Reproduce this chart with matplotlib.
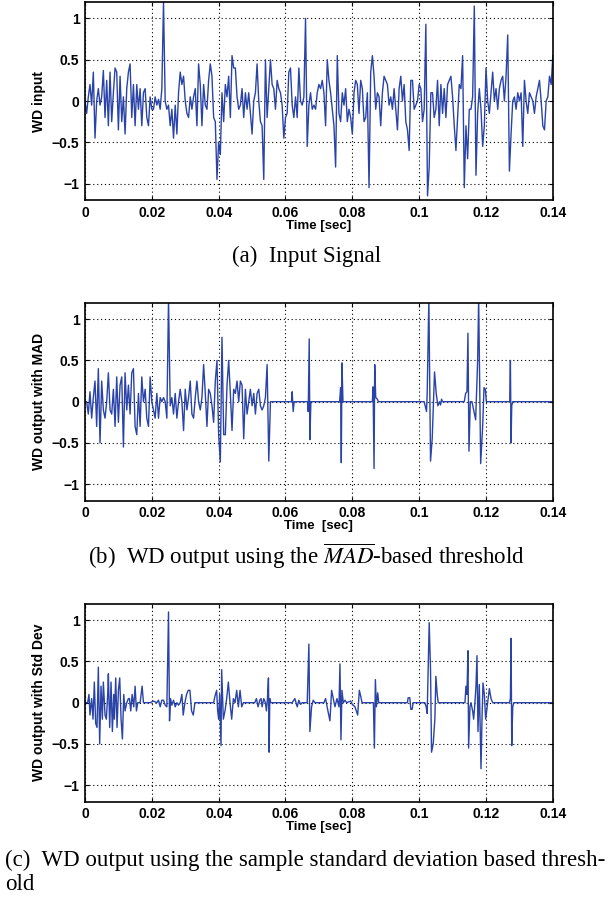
import numpy as np
import matplotlib
matplotlib.use('Agg')
import matplotlib.pyplot as plt

plt.rcParams['font.family'] = ['Liberation Sans', 'DejaVu Sans']
plt.rcParams['mathtext.fontset'] = 'stix'

# (a) WD input, sampled every 0.5 ms from 0 to 0.14 s
dt_ms = 0.5
wd_input = [
    0.0, -0.15, 0.05, 0.2, -0.05, 0.35, -0.45, 0.0, 0.15, -0.05,
    0.05, 0.37, -0.2, 0.25, -0.3, 0.35, -0.25, 0.1, 0.4, 0.35,
    -0.35, 0.3, -0.25, 0.05, -0.4, 0.15, 0.35, 0.45, -0.2, 0.2,
    -0.3, 0.2, -0.1, 0.15, -0.3, 0.1, 0.15, -0.2, -0.3, 0.05,
    -0.1, -0.1, 0.05, -0.05, 0.02, -0.1, 0.15, 1.2, 0.0, -0.1,
    -0.05, -0.3, -0.1, -0.45, -0.05, -0.4, 0.1, 0.35, 0.2, 0.3,
    0.0, -0.15, -0.2, 0.05, -0.1, 0.05, 0.15, -0.3, 0.45, 0.2,
    -0.3, 0.2, -0.05, -0.1, 0.25, 0.45, 0.3, -0.2, -0.25, -0.95,
    -0.5, -0.65, 0.1, -0.25, 0.2, 0.05, 0.3, -0.2, 0.55, 0.4,
    0.4, 0.05, -0.1, -0.05, 0.15, -0.2, 0.1, -0.1, 0.1, -0.15,
    -0.4, 0.0, 0.1, 0.45, 0.0, -0.25, -0.3, -0.95, 0.5, -0.2,
    0.15, 0.5, 0.2, 0.15, -0.1, 0.25, 0.15, 0.1, -0.05, -0.45,
    -0.2, -0.15, 0.35, 0.4, -0.05, -0.2, 0.05, -0.2, 0.4, 0.0,
    -0.05, 0.05, 1.0, -0.55, -0.05, 0.1, -0.1, -0.05, -0.1, 0.1,
    0.2, 0.15, 0.25, 0.1, -0.3, 0.5, 0.25, 0.1, -0.1, -0.3,
    -0.8, 0.55, -0.15, -0.25, 0.1, -0.05, 0.15, -0.25, -0.1, -0.2,
    -0.4, 0.1, 0.25, 0.2, -0.15, 0.25, 0.15, -0.25, -0.2, 0.1,
    -1.05, 0.35, 0.55, 0.3, -0.1, 0.1, 0.05, -0.3, 0.1, 0.3,
    0.25, 0.2, -0.05, 0.05, -0.1, 0.15, -0.1, -0.35, 0.15, 0.3,
    0.0, 0.2, -0.25, -0.35, -0.6, 0.25, 0.25, -0.1, -0.05, 0.0,
    0.2, 0.15, -0.25, -0.1, 0.93, -1.15, -0.8, 0.1, 0.1, -0.2,
    -0.1, 0.25, -0.3, 0.2, -0.15, 0.15, -0.2, 0.2, 0.25, 0.3,
    0.05, -0.3, -0.6, -0.2, 0.2, 0.15, 0.55, -1.05, -0.3, -0.7,
    -0.1, -0.1, 0.05, 1.15, -0.9, -0.15, 0.15, -0.1, -0.55, -0.3,
    0.4, 0.0, -0.15, 0.1, 0.35, 0.0, 0.15, -0.1, 0.15, 0.25,
    0.3, 0.0, 0.3, 0.8, -0.85, -0.4, 0.0, 0.05, -0.1, 0.1,
    0.0, 0.1, -0.55, 0.25, 0.0, -0.15, 0.1, 0.05, 0.0, -0.15,
    0.05, 0.15, 0.25, 0.0, -0.3, -0.35, 0.0, 0.05, 0.3, 0.2, 0.55,
]

# (b) MAD threshold output: dense part (0.5 ms steps) up to ~0.056 s
mad_dense = [
    0.0, 0.0, -0.15, 0.12, -0.2, 0.05, 0.25, -0.3, 0.4, -0.5,
    0.25, -0.1, -0.2, 0.0, 0.35, -0.1, -0.15, 0.15, -0.3, 0.3,
    -0.25, 0.2, 0.3, -0.55, 0.35, -0.1, 0.2, -0.15, 0.35, 0.4,
    -0.3, -0.4, 0.1, -0.3, 0.3, 0.0, 0.15, -0.2, -0.3, 0.3,
    0.0, -0.1, -0.2, 0.1, -0.2, 0.05, 0.0, 0.05, 0.0, -0.2,
    1.25, -0.05, 0.05, -0.15, 0.1, -0.2, 0.0, 0.15, 0.0, -0.35,
    0.15, -0.1, 0.05, 0.25, -0.15, -0.2, 0.05, 0.25, 0.0, -0.1,
    0.05, 0.45, 0.1, -0.3, 0.15, 0.1, -0.05, -0.25, 0.25, 0.5,
    -0.4, -0.73, 0.78, -0.4, -0.4, 0.2, 0.5, 0.1, -0.35, 0.15,
    0.1, 0.25, 0.0, 0.25, 0.2, -0.45, 0.15, -0.15, 0.0, 0.15,
    -0.05, 0.1, -0.15, 0.1, 0.15, -0.05, -0.1, -0.05, 0.05, 0.45,
    -0.72, 0.0,
]
# (b) sparse bursts after the dense part (time in ms, value)
mad_t_ms = [
    61.8, 62.0, 62.3, 62.6, 66.6, 66.8, 67.1, 67.3, 67.6,
    76.2, 76.5, 76.7, 76.9, 77.2, 86.0, 86.2, 86.5, 86.7, 87.0, 87.5, 87.8,
    101.5, 101.8, 102.2, 102.4, 102.9, 103.4, 103.9, 104.6, 105.1, 105.6,
    106.1, 106.4, 106.7, 107.0,
    113.5, 113.9, 114.3, 114.6, 114.9, 115.3, 115.8, 116.3, 116.9, 117.5,
    117.8, 118.4, 119.0, 119.4, 119.8, 120.1,
    127.1, 127.3, 127.5, 127.7, 128.0, 140.0,
]
mad_y = [
    0.0, 0.12, -0.12, 0.0, 0.0, -0.12, 0.76, -0.46, 0.0,
    0.0, 0.17, -0.74, 0.47, 0.0, 0.0, 0.18, -0.81, 0.45, 0.05, 0.03, 0.0,
    0.0, -0.05, -0.12, 0.1, 1.25, -0.72, -0.45, 0.36, 0.1, -0.05,
    0.0, -0.04, 0.03, 0.0,
    0.0, 0.1, 0.12, 0.83, -0.6, 0.0, 0.0, -0.1, -0.22, 0.5,
    1.25, -0.75, -0.3, 0.17, 0.15, 0.0,
    0.0, 0.5, -0.5, -0.05, 0.0, 0.0,
]

# (c) Std Dev threshold output (time in ms, value)
std_t_ms = [
    0.0, 0.8, 1.2, 1.5, 2.0, 2.4, 2.8, 3.2, 3.6, 4.0, 4.4, 4.8, 5.2, 5.5,
    6.0, 6.4, 6.8, 7.0, 7.4, 7.8, 8.2, 8.6, 8.8, 9.2, 9.6, 10.0, 10.4,
    10.8, 11.2, 11.6, 12.0, 12.5, 13.0, 13.3, 13.7, 14.1, 14.6, 15.0,
    15.4, 15.8, 16.5, 17.1, 17.5, 19.5, 20.5, 21.5, 22.0, 22.5, 23.0,
    23.5, 24.0, 24.5, 25.0, 25.3, 25.6, 26.0, 26.5, 27.0, 27.5, 28.0,
    28.5, 29.0, 29.4, 29.9, 30.4, 30.9, 31.4, 31.9, 32.4, 32.9, 38.5,
    38.9, 39.4, 39.7, 40.0, 40.3, 40.7, 40.9, 41.4, 41.9, 42.4, 42.9,
    43.4, 43.9, 44.4, 44.9, 45.4, 45.9, 46.4, 46.9, 47.4, 50.8, 51.3,
    51.8, 52.3, 52.7, 53.0, 53.5, 54.0, 54.3, 54.6, 54.9, 55.1, 55.3,
    55.6, 62.0, 62.8, 63.5, 64.0, 64.5, 65.0, 66.5, 67.0, 67.3, 67.8,
    68.3, 68.8, 71.5, 72.0, 72.6, 73.3, 73.8, 74.3, 74.8, 75.4, 76.0,
    76.3, 76.6, 76.9, 77.3, 77.8, 78.3, 79.5, 80.0, 80.8, 81.6, 82.1,
    82.5, 82.9, 86.3, 86.6, 86.9, 87.2, 87.6, 87.9, 96.5, 96.7, 97.2,
    97.5, 97.9, 98.2, 101.7, 102.1, 102.4, 102.7, 103.0, 103.4, 103.7,
    104.2, 104.7, 105.0, 105.4, 105.7, 113.7, 114.0, 114.3, 114.6,
    114.8, 115.2, 115.5, 116.0, 116.3, 116.6, 117.0, 117.3, 117.6,
    118.0, 118.5, 118.8, 119.1, 119.5, 119.9, 120.5, 121.0, 121.5,
    122.0, 127.0, 127.3, 127.5, 127.7, 128.0, 128.3, 140.0,
]
std_y = [
    0.0, 0.0, 0.1, -0.15, 0.05, -0.2, 0.25, -0.25, -0.3, 0.43, -0.5, 0.2, -0.2, 0.25,
    -0.15, -0.2, 0.1, 0.35, -0.3, 0.25, -0.35, 0.1, -0.2, 0.3, -0.3, 0.15, 0.3,
    -0.2, -0.44, 0.1, -0.1, 0.0, 0.05, 0.05, -0.1, 0.1, -0.05, 0.2,
    -0.1, 0.0, 0.0, 0.2, 0.0, 0.0, 0.02, 0.0, 0.03, -0.05, 0.03,
    0.03, -0.03, -0.05, 1.1, -0.22, 0.05, -0.03, 0.03, -0.05, 0.0, -0.03,
    0.0, 0.1, -0.15, 0.0, 0.1, 0.15, 0.15, -0.1, -0.15, 0.0, 0.0,
    0.08, 0.15, -0.1, -0.2, 0.1, -0.52, 0.4, -0.2, -0.1, 0.05, 0.25,
    0.0, -0.2, 0.05, 0.0, 0.15, -0.05, 0.15, -0.05, 0.0, 0.0, 0.05,
    -0.05, 0.03, 0.05, -0.05, 0.05, 0.0, -0.1, 0.05, 0.3, -0.6, 0.05,
    0.0, 0.0, 0.05, -0.05, 0.03, -0.02, 0.0, 0.0, 0.71, -0.35, -0.05,
    0.03, 0.0, 0.0, 0.05, -0.08, -0.22, 0.15, 0.05, -0.05, 0.05, -0.05,
    0.47, -0.45, 0.15, 0.0, 0.03, 0.0, 0.02, -0.02, -0.05, -0.15, 0.15,
    0.08, 0.0, 0.0, -0.55, 0.28, -0.05, 0.12, 0.0, 0.0, 0.06, 0.06,
    -0.08, -0.08, 0.0, 0.0, -0.05, -0.13, 0.4, 0.97, 0.4, -0.6,
    -0.5, -0.2, 0.32, 0.1, 0.0, 0.0, 0.2, 0.1, 0.63,
    -0.55, -0.05, 0.0, -0.1, -0.2, -0.05, 0.2, 0.57, -0.35,
    0.22, -0.8, -0.2, 0.24, 0.1, -0.2, 0.0, 0.17, 0.05,
    0.0, 0.0, 0.05, 0.78, -0.52, -0.05, 0.0, 0.0,
]

x_ticks = [0, 0.02, 0.04, 0.06, 0.08, 0.1, 0.12, 0.14]
x_labels = ['0', '0.02', '0.04', '0.06', '0.08', '0.1', '0.12', '0.14']
y_ticks = [-1, -0.5, 0, 0.5, 1]
y_labels = ['\u22121', '\u22120.5', '0', '0.5', '1']

line_color = '#2a43a8'


def style_axes(ax, ylabel, xlabel):
    ax.set_xlim(0, 0.14)
    ax.set_ylim(-1.2, 1.2)
    ax.set_xticks(x_ticks)
    ax.set_xticklabels(x_labels, fontweight='bold', fontsize=10)
    ax.set_yticks(y_ticks)
    ax.set_yticklabels(y_labels, fontweight='bold', fontsize=10)
    ax.tick_params(direction='in', top=True, right=True, length=3, width=0.8, pad=4)
    ax.grid(True, color='black', linestyle=(0, (1, 2.5)), linewidth=0.8)
    for s in ax.spines.values():
        s.set_linewidth(1.2)
    ax.set_ylabel(ylabel, fontweight='bold', fontsize=10, labelpad=4)
    ax.set_xlabel(xlabel, fontweight='bold', fontsize=9.5, labelpad=0)


fig = plt.figure(figsize=(6.1, 9.01), dpi=100)
left, width, height = 0.1393, 0.767, 0.2198

# panel a
ax1 = fig.add_axes([left, 0.778, width, height])
t_a = np.arange(len(wd_input)) * dt_ms / 1000.0
ax1.plot(t_a, wd_input, color=line_color, linewidth=1.0)
style_axes(ax1, 'WD input', 'Time [sec]')

# panel b
ax2 = fig.add_axes([left, 0.4443, width, height])
t_b = np.concatenate([np.arange(len(mad_dense)) * dt_ms, mad_t_ms]) / 1000.0
y_b = np.concatenate([mad_dense, mad_y])
ax2.plot(t_b, y_b, color=line_color, linewidth=1.0)
style_axes(ax2, 'WD output with MAD', 'Time  [sec]')

# panel c
ax3 = fig.add_axes([left, 0.1102, width, height])
ax3.plot(np.array(std_t_ms) / 1000.0, std_y, color=line_color, linewidth=1.0)
style_axes(ax3, 'WD output with Std Dev', 'Time [sec]')

cap = dict(fontsize=16.5, family=['Liberation Serif', 'DejaVu Serif'])
fig.text(0.503, 1 - 256 / 901, '(a)  Input Signal', ha='center', va='center', **cap)
fig.text(0.503, 1 - 556 / 901, r'(b)  WD output using the $\overline{MAD}$-based threshold',
         ha='center', va='center', **cap)
fig.text(0.008, 1 - 860 / 901, '(c)  WD output using the sample standard deviation based thresh-',
         ha='left', va='center', **cap)
fig.text(0.008, 1 - 885 / 901, 'old', ha='left', va='center', **cap)

fig.savefig('out.png', dpi=100)
